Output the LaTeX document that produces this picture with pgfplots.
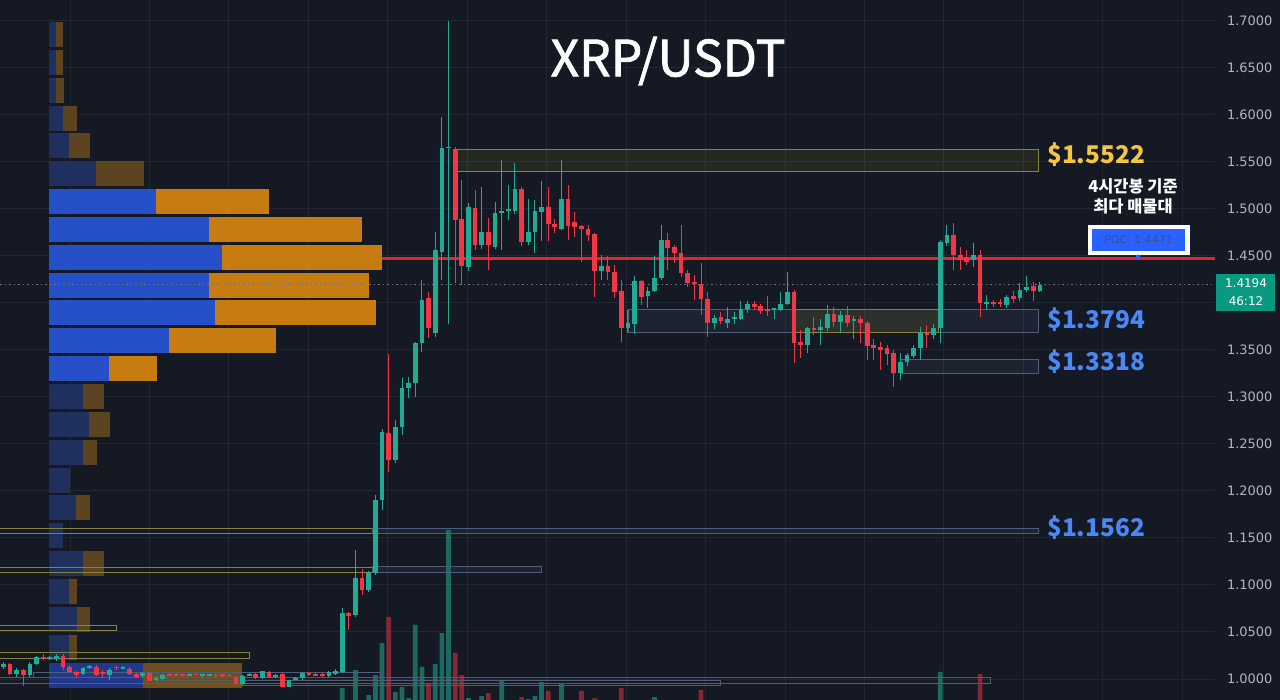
\documentclass[border=0pt]{standalone}
\usepackage{pgfplots}
\pgfplotsset{compat=1.18}
\usepackage{pgfplotstable}
\usepackage{fontspec}
\setmainfont{DejaVu Sans}
\newfontfamily\cjk{Noto Sans CJK KR}
\newfontfamily\cjkmed[FakeBold=1.6]{Noto Sans CJK KR}
\newfontfamily\dvs{DejaVu Sans}
\definecolor{bg}{HTML}{151924}
\definecolor{gridc}{HTML}{232733}
\definecolor{upc}{HTML}{22AB94}
\definecolor{dnc}{HTML}{F23645}
\definecolor{tickc}{HTML}{B2B5BE}
\definecolor{pbB}{HTML}{2550C8}
\definecolor{poB}{HTML}{C67C10}
\definecolor{pbF}{HTML}{1F2F5E}
\definecolor{poF}{HTML}{5C4420}
\definecolor{pbM}{HTML}{22398A}
\definecolor{poM}{HTML}{6E4E1C}
\definecolor{zy}{HTML}{86833A}
\definecolor{zb}{HTML}{4F5E78}
\definecolor{gold}{HTML}{F4C542}
\definecolor{lblue}{HTML}{4A88F5}
\definecolor{pocblue}{HTML}{2962FF}
\definecolor{poctext}{HTML}{3A4F96}
\definecolor{pocred}{HTML}{E1262C}
\definecolor{lastg}{HTML}{089981}
\definecolor{dotc}{HTML}{6E717C}

% rising candles: index, open, high, low, close
\pgfplotstableread{
i o h l c
0 1.0128 1.0181 1.0106 1.0160
2 1.0053 1.0117 1.0021 1.0096
4 1.0043 1.0181 1.0021 1.0160
5 1.0160 1.0250 1.0150 1.0234
7 1.0213 1.0245 1.0200 1.0230
8 1.0213 1.0266 1.0190 1.0245
12 1.0053 1.0128 1.0040 1.0117
13 1.0117 1.0150 1.0105 1.0140
16 1.0043 1.0117 0.9990 1.0100
18 1.0115 1.0140 1.0105 1.0125
21 1.0030 1.0075 1.0020 1.0060
23 0.9990 1.0030 0.9980 1.0010
24 1.0000 1.0050 0.9990 1.0040
28 1.0040 1.0060 1.0032 1.0052
30 1.0035 1.0055 1.0025 1.0048
31 1.0040 1.0058 1.0030 1.0050
36 0.9950 1.0045 0.9935 1.0030
37 1.0040 1.0060 1.0030 1.0050
39 1.0010 1.0090 1.0000 1.0080
41 1.0020 1.0055 1.0015 1.0045
43 0.9920 0.9990 0.9910 0.9985
44 0.9990 1.0025 0.9985 1.0015
45 1.0010 1.0075 0.9990 1.0060
49 1.0030 1.0085 1.0020 1.0075
50 1.0053 1.0110 1.0045 1.0085
51 1.0074 1.0755 1.0060 1.0702
53 1.0681 1.1372 1.0660 1.1074
55 1.0947 1.1150 1.0930 1.1128
56 1.1128 1.1957 1.1110 1.1904
57 1.1904 1.2660 1.1798 1.2628
59 1.2330 1.2755 1.2300 1.2681
60 1.2681 1.3202 1.2596 1.3096
61 1.3096 1.3213 1.2989 1.3149
62 1.3149 1.3590 1.3000 1.3574
63 1.3574 1.4245 1.3479 1.4032
65 1.3681 1.4755 1.3638 1.4564
66 1.4543 1.5979 1.4245 1.5649
67 1.5649 1.7000 1.3777 1.5660
70 1.4383 1.5064 1.4340 1.5021
72 1.4617 1.5234 1.4574 1.4755
74 1.4596 1.5074 1.4574 1.4957
75 1.4957 1.5521 1.4564 1.4979
76 1.4979 1.5255 1.4883 1.5000
77 1.4979 1.5489 1.4947 1.5213
79 1.4649 1.5106 1.4617 1.4755
80 1.4755 1.5096 1.4532 1.4979
81 1.4968 1.5298 1.4660 1.5021
84 1.4787 1.5521 1.4777 1.5106
90 1.4340 1.4511 1.4245 1.4394
94 1.3734 1.3926 1.3681 1.3787
95 1.3777 1.4287 1.3670 1.4234
97 1.4074 1.4170 1.3947 1.4128
98 1.4128 1.4500 1.4117 1.4266
99 1.4266 1.4830 1.4245 1.4670
107 1.3787 1.3872 1.3723 1.3840
109 1.3787 1.3957 1.3734 1.3830
110 1.3830 1.3904 1.3777 1.3851
111 1.3830 1.4021 1.3819 1.3936
112 1.3936 1.4021 1.3894 1.3989
116 1.3926 1.3947 1.3830 1.3947
117 1.3926 1.4117 1.3915 1.3989
118 1.3989 1.4330 1.3979 1.4117
121 1.3553 1.3745 1.3468 1.3734
123 1.3713 1.3830 1.3553 1.3745
124 1.3734 1.3979 1.3702 1.3883
126 1.3798 1.3915 1.3681 1.3872
128 1.3809 1.3862 1.3617 1.3830
135 1.3255 1.3468 1.3181 1.3372
136 1.3372 1.3468 1.3330 1.3447
137 1.3436 1.3553 1.3415 1.3521
138 1.3521 1.3745 1.3394 1.3681
140 1.3660 1.3777 1.3617 1.3734
141 1.3734 1.4670 1.3574 1.4649
142 1.4638 1.4830 1.4606 1.4723
146 1.4457 1.4638 1.4383 1.4511
148 1.3989 1.4085 1.3926 1.4011
151 1.3979 1.4085 1.3947 1.4064
153 1.4053 1.4213 1.4021 1.4138
154 1.4138 1.4287 1.4117 1.4170
156 1.4128 1.4223 1.4117 1.4194
}\candlesup

% falling candles: index, open, high, low, close
\pgfplotstableread{
i o h l c
1 1.0160 1.0170 1.0043 1.0053
3 1.0096 1.0106 0.9926 1.0043
6 1.0234 1.0266 1.0200 1.0213
9 1.0245 1.0270 1.0096 1.0128
10 1.0128 1.0150 1.0060 1.0074
11 1.0074 1.0090 1.0010 1.0043
14 1.0128 1.0150 1.0035 1.0043
15 1.0070 1.0100 1.0010 1.0050
17 1.0130 1.0140 1.0100 1.0115
19 1.0110 1.0125 1.0040 1.0050
20 1.0055 1.0060 1.0010 1.0020
22 1.0060 1.0075 0.9975 0.9980
25 1.0055 1.0065 1.0030 1.0040
26 1.0050 1.0060 1.0035 1.0040
27 1.0050 1.0058 1.0035 1.0040
29 1.0058 1.0068 1.0040 1.0045
32 1.0045 1.0055 1.0020 1.0030
33 1.0048 1.0058 1.0025 1.0032
34 1.0045 1.0055 1.0028 1.0035
35 1.0020 1.0030 0.9940 0.9950
38 1.0050 1.0060 1.0005 1.0015
40 1.0075 1.0085 1.0010 1.0015
42 1.0050 1.0060 0.9915 0.9920
46 1.0060 1.0070 1.0035 1.0045
47 1.0050 1.0060 1.0030 1.0040
48 1.0050 1.0060 1.0020 1.0030
52 1.0702 1.0713 1.0521 1.0670
54 1.1074 1.1170 1.0894 1.0947
58 1.2617 1.3457 1.2202 1.2330
64 1.4053 1.4117 1.3628 1.3734
68 1.5638 1.5660 1.4213 1.4883
69 1.4894 1.5309 1.4191 1.4394
71 1.5011 1.5202 1.4564 1.4617
73 1.4755 1.4904 1.4351 1.4617
78 1.5213 1.5234 1.4606 1.4649
82 1.5021 1.5234 1.4660 1.4840
83 1.4840 1.4894 1.4745 1.4809
85 1.5106 1.5255 1.4670 1.4819
86 1.4862 1.4968 1.4702 1.4809
87 1.4819 1.4830 1.4436 1.4787
88 1.4787 1.4830 1.4660 1.4723
89 1.4734 1.4745 1.4064 1.4340
91 1.4394 1.4500 1.4245 1.4330
92 1.4330 1.4404 1.4053 1.4117
93 1.4128 1.4245 1.3585 1.3734
96 1.4234 1.4245 1.3979 1.4064
100 1.4670 1.4748 1.4351 1.4585
101 1.4596 1.4617 1.4426 1.4532
102 1.4532 1.4830 1.4277 1.4319
103 1.4319 1.4351 1.4170 1.4213
104 1.4224 1.4298 1.4032 1.4202
105 1.4202 1.4426 1.3872 1.4043
106 1.4043 1.4117 1.3638 1.3787
108 1.3851 1.3904 1.3777 1.3809
113 1.3989 1.4021 1.3926 1.3957
114 1.3968 1.3990 1.3883 1.3915
115 1.3936 1.4074 1.3862 1.3915
119 1.4117 1.4138 1.3362 1.3574
120 1.3585 1.3713 1.3415 1.3553
122 1.3734 1.3851 1.3660 1.3713
125 1.3883 1.3957 1.3745 1.3798
127 1.3872 1.3968 1.3745 1.3787
129 1.3830 1.3862 1.3574 1.3787
130 1.3787 1.3809 1.3394 1.3543
131 1.3553 1.3617 1.3394 1.3521
132 1.3532 1.3585 1.3287 1.3500
133 1.3521 1.3553 1.3340 1.3457
134 1.3468 1.3500 1.3106 1.3255
139 1.3681 1.3766 1.3521 1.3660
143 1.4723 1.4851 1.4351 1.4511
144 1.4511 1.4596 1.4351 1.4457
145 1.4489 1.4560 1.4404 1.4436
147 1.4511 1.4564 1.3851 1.4000
149 1.4011 1.4032 1.3957 1.3989
150 1.4011 1.4043 1.3957 1.3989
152 1.4074 1.4128 1.4000 1.4043
155 1.4181 1.4223 1.4021 1.4128
}\candlesdn

% volume bars (height in px units above chart bottom)
\pgfplotstableread{
i h
51 12
53 30
55 5
56 25
57 57
59 8
60 13
61 2
62 75
63 33
65 36
66 67
67 170
70 2
72 4
75 20
79 1
80 4
81 18
84 16
98 3
141 28
}\volup
\pgfplotstableread{
i h
58 83
64 17
68 47
69 25
73 7
78 3
82 9
87 9
89 2
93 12
105 10
147 26
}\voldn

% volume profile rows: price centre, end of blue part, end of orange part (start at 49)
\pgfplotstableread{
y b o
1.68564 56 63
1.65601 56 63
1.62638 56 64
1.59676 63 77
1.56713 69 90
1.53750 96 144
1.30048 83 104
1.27085 89 110
1.24122 83 97
1.21160 70 70
1.18197 76 90
1.15234 63 63
1.12271 83 104
1.09309 69 77
1.06346 77 90
1.03383 69 77
}\profF
\pgfplotstableread{
y b o
1.50787 156 269
1.47824 209 362
1.44862 222 382
1.41899 209 369
1.38936 215 376
1.35973 169 276
1.33011 109 157
}\profB
\pgfplotstableread{
y b o
1.00420 143 242
}\profM

\pgfplotsset{
  wick/.style={draw=none, error bars/.cd, y dir=both, y explicit, error mark=none,
    error bar style={draw=#1, line width=1bp}},
  body/.style={draw=none, error bars/.cd, y dir=both, y explicit, error mark=none,
    error bar style={draw=#1, line width=4.7bp, line cap=butt}},
  prof/.style={draw=none, error bars/.cd, x dir=both, x explicit, error mark=none,
    error bar style={draw=#1, line width=25bp, line cap=butt}},
}

\begin{document}
\begin{tikzpicture}
\useasboundingbox (0,0) rectangle (1280bp,700bp);
\fill[bg] (0,0) rectangle (1280bp,700bp);
\begin{axis}[
  at={(0,0)}, anchor=south west,
  scale only axis, width=1215bp, height=700bp,
  xmin=0, xmax=1215, ymin=0.97766, ymax=1.72234,
  axis line style={draw=none},
  major tick length=0pt,
  xtick={70,149.45,228.9,308.35,387.8,467.25,546.7,626.15,705.6,785.05,864.5,943.95,1023.4,1102.85,1182.3},
  xticklabels={},
  ytick={1.00,1.05,1.10,1.15,1.20,1.25,1.30,1.35,1.40,1.45,1.50,1.55,1.60,1.65,1.70},
  yticklabels={1.0000,1.0500,1.1000,1.1500,1.2000,1.2500,1.3000,1.3500,{},1.4500,1.5000,1.5500,1.6000,1.6500,1.7000},
  xmajorgrids, ymajorgrids,
  grid style={draw=gridc, line width=1bp},
  yticklabel pos=right,
  yticklabel style={font=\dvs\fontsize{13}{15}\selectfont, text=tickc, anchor=west, xshift=8.5bp},
  clip=true,
]
% volume
\addplot[ybar, bar width=4.7, bar shift=0pt, draw=none, fill=upc, fill opacity=0.55]
  table[x expr=3.3+6.645*\thisrow{i}, y expr=0.97766+\thisrow{h}/940]{\volup};
\addplot[ybar, bar width=4.7, bar shift=0pt, draw=none, fill=dnc, fill opacity=0.5]
  table[x expr=3.3+6.645*\thisrow{i}, y expr=0.97766+\thisrow{h}/940]{\voldn};

% POC line (thin part behind profile)
\addplot[pocred, line width=1bp, opacity=0.6] coordinates {(49,1.4471) (382,1.4471)};

% volume profile
\addplot[prof=pbF] table[x expr=(49+\thisrow{b})/2, y=y, x error expr=(\thisrow{b}-49)/2]{\profF};
\addplot[prof=poF] table[x expr=(\thisrow{b}+\thisrow{o})/2, y=y, x error expr=(\thisrow{o}-\thisrow{b})/2]{\profF};
\addplot[prof=pbB] table[x expr=(49+\thisrow{b})/2, y=y, x error expr=(\thisrow{b}-49)/2]{\profB};
\addplot[prof=poB] table[x expr=(\thisrow{b}+\thisrow{o})/2, y=y, x error expr=(\thisrow{o}-\thisrow{b})/2]{\profB};
\addplot[prof=pbM] table[x expr=(49+\thisrow{b})/2, y=y, x error expr=(\thisrow{b}-49)/2]{\profM};
\addplot[prof=poM] table[x expr=(\thisrow{b}+\thisrow{o})/2, y=y, x error expr=(\thisrow{o}-\thisrow{b})/2]{\profM};

% zones
\draw[zy, line width=1bp, fill=yellow, fill opacity=0.07] (axis cs:455,1.5638) rectangle (axis cs:1038,1.5404);
\draw[zb, line width=1bp, fill=zb, fill opacity=0.15] (axis cs:628,1.3926) rectangle (axis cs:1038,1.3681);
\draw[zy, line width=1bp, fill=yellow, fill opacity=0.07] (axis cs:795,1.3926) rectangle (axis cs:938,1.3681);
\draw[zb, line width=1bp, fill=zb, fill opacity=0.15] (axis cs:900,1.3404) rectangle (axis cs:1038,1.3245);
\draw[zy, line width=1bp] (axis cs:-2,1.1606) rectangle (axis cs:372,1.1543);
\draw[zb, line width=1bp, fill=zb, fill opacity=0.15] (axis cs:372,1.1606) rectangle (axis cs:1038,1.1543);
\draw[zy, line width=1bp] (axis cs:-2,1.1191) rectangle (axis cs:372,1.1128);
\draw[zb, line width=1bp, fill=zb, fill opacity=0.15] (axis cs:372,1.1202) rectangle (axis cs:541,1.1128);
\draw[zy, line width=1bp] (axis cs:-2,1.0574) rectangle (axis cs:116,1.0521);
\draw[zy, line width=1bp] (axis cs:-2,1.0277) rectangle (axis cs:249,1.0213);
\draw[zb, line width=1bp] (axis cs:33,1.0074) rectangle (axis cs:380,1.0021);
\draw[zb, line width=1bp] (axis cs:-2,1.0021) rectangle (axis cs:990,0.9957);
\draw[zb, line width=1bp] (axis cs:157,0.9989) rectangle (axis cs:720,0.9936);

% current price dotted line
\addplot[dotc, line width=1bp, dash pattern=on 1.5bp off 3bp] coordinates {(0,1.4194) (1215,1.4194)};
% POC line
\addplot[pocred, line width=2.6bp] coordinates {(382,1.4471) (1215,1.4471)};

% candle wicks
\addplot[wick=upc] table[x expr=3.3+6.645*\thisrow{i}, y expr=(\thisrow{h}+\thisrow{l})/2, y error expr=(\thisrow{h}-\thisrow{l})/2]{\candlesup};
\addplot[wick=dnc] table[x expr=3.3+6.645*\thisrow{i}, y expr=(\thisrow{h}+\thisrow{l})/2, y error expr=(\thisrow{h}-\thisrow{l})/2]{\candlesdn};
% candle bodies
\addplot[body=upc] table[x expr=3.3+6.645*\thisrow{i}, y expr=(\thisrow{o}+\thisrow{c})/2, y error expr={max((\thisrow{c}-\thisrow{o})/2,0.0006)}]{\candlesup};
\addplot[body=dnc] table[x expr=3.3+6.645*\thisrow{i}, y expr=(\thisrow{o}+\thisrow{c})/2, y error expr={max((\thisrow{o}-\thisrow{c})/2,0.0006)}]{\candlesdn};
\end{axis}

% annotations (1 px = 1 bp, origin bottom left)
\node[text=white, font=\cjkmed\fontsize{50}{50}\selectfont, anchor=center] at (668bp,639bp) {XRP/USDT};
\node[text=gold, font=\cjk\bfseries\fontsize{24.5}{24.5}\selectfont, anchor=west, inner sep=0pt] at (1047bp,545bp) {\$1.5522};
\node[text=lblue, font=\cjk\bfseries\fontsize{24.5}{24.5}\selectfont, anchor=west, inner sep=0pt] at (1047bp,380bp) {\$1.3794};
\node[text=lblue, font=\cjk\bfseries\fontsize{24.5}{24.5}\selectfont, anchor=west, inner sep=0pt] at (1047bp,338bp) {\$1.3318};
\node[text=lblue, font=\cjk\bfseries\fontsize{24.5}{24.5}\selectfont, anchor=west, inner sep=0pt] at (1047bp,172bp) {\$1.1562};
\node[text=white, font=\cjk\bfseries\fontsize{16.5}{16.5}\selectfont, anchor=center, inner sep=0pt] at (1133bp,514bp) {4시간봉 기준};
\node[text=white, font=\cjk\bfseries\fontsize{16.5}{16.5}\selectfont, anchor=center, inner sep=0pt] at (1133bp,494bp) {최다 매물대};
\fill[white] (1088bp,445bp) rectangle (1190bp,475bp);
\fill[pocblue] (1092bp,449bp) rectangle (1185bp,471bp);
\node[text=poctext, font=\dvs\fontsize{11}{11}\selectfont, anchor=center] at (1138.5bp,460bp) {POC: 1.4471};
\fill[pocblue] (1138bp,443bp) circle (2.5bp);
\fill[lastg] (1216bp,389bp) rectangle (1275bp,426bp);
\node[text=white, font=\dvs\fontsize{12}{12}\selectfont, anchor=center, inner sep=0pt] at (1246bp,416.5bp) {1.4194};
\node[text=white, font=\dvs\fontsize{12}{12}\selectfont, anchor=center, inner sep=0pt] at (1246bp,398.5bp) {46:12};
\end{tikzpicture}
\end{document}
